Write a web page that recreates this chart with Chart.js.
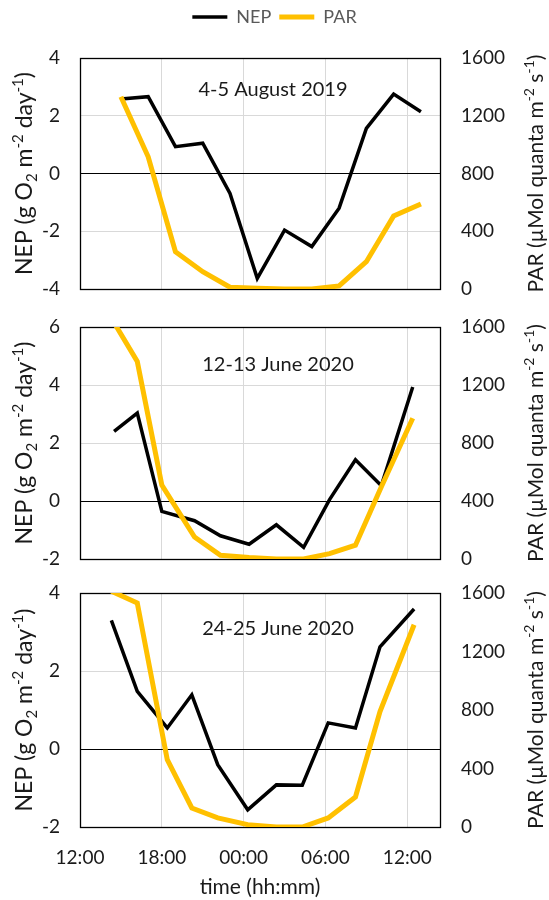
<!DOCTYPE html>
<html>
<head>
<meta charset="utf-8">
<script src="https://cdn.jsdelivr.net/npm/chart.js@4"></script>
<style>
body { margin: 0; background: #fff; }
#wrap { position: relative; width: 549px; height: 900px; }
canvas { position: absolute; left: 0; }
</style>
</head>
<body>
<div id="wrap">
<canvas id="c1" width="549" height="300" style="top:0px"></canvas>
<canvas id="c2" width="549" height="270" style="top:300px"></canvas>
<canvas id="c3" width="549" height="330" style="top:570px"></canvas>
</div>
<script>
// Times are hours after 12:00 on the first day
const hoursAug = [3, 5, 7, 9, 11, 13, 15, 17, 19, 21, 23, 25];
const nepAug = [2.58, 2.66, 0.93, 1.05, -0.69, -3.63, -1.96, -2.53, -1.20, 1.56, 2.75, 2.14];
const parAug = [1332, 916, 258, 120, 12, 5, 0, 0, 21, 189, 506, 589];

const hoursJun12 = [2.5, 4.2, 6.0, 8.4, 10.3, 12.4, 14.4, 16.4, 18.3, 20.2, 22.1, 24.4];
const nepJun12 = [2.40, 3.03, -0.36, -0.68, -1.20, -1.49, -0.82, -1.60, 0.05, 1.42, 0.53, 3.93];
const parJun12 = [1630, 1362, 510, 152, 26, 10, 0, 0, 37, 95, 498, 971];

const hoursJun24 = [2.3, 4.2, 6.4, 8.2, 10.1, 12.3, 14.4, 16.3, 18.2, 20.2, 22.0, 24.5];
const nepJun24 = [3.30, 1.48, 0.54, 1.39, -0.40, -1.56, -0.92, -0.93, 0.67, 0.54, 2.62, 3.59];
const parJun24 = [1612, 1532, 460, 130, 62, 16, 0, 0, 62, 205, 790, 1383];

const xTickHours = [0, 6, 12, 18, 24];
const xTickLabels = ['12:00', '18:00', '00:00', '06:00', '12:00'];

// axis titles: [text, 'n' normal | 'sup' | 'sub']
const nepTitle = [['NEP (g O', 'n'], ['2', 'sub'], [' m', 'n'], ['-2', 'sup'], [' day', 'n'], ['-1', 'sup'], [')', 'n']];
const parTitle = [['PAR (\u00b5Mol quanta m', 'n'], ['-2', 'sup'], [' s', 'n'], ['-1', 'sup'], [')', 'n']];

const FONT = 'Lato';
const TEXT = '#1a1a1a';
const GRID = '#d9d9d9';

// make the legend box taller so the plot starts lower
const legendHeight = {
	id: 'legendHeight',
	beforeInit(chart, args, opts) {
		if (!chart.legend || !opts.height) return;
		const fit = chart.legend.fit;
		chart.legend.fit = function () {
			fit.bind(chart.legend)();
			this.height = opts.height;
		};
	}
};

// black box round the plot area
const frame = {
	id: 'frame',
	beforeDatasetsDraw(chart) {
		const { ctx, chartArea: a } = chart;
		ctx.save();
		ctx.strokeStyle = '#000';
		ctx.lineWidth = 1.3;
		ctx.strokeRect(Math.round(a.left) + 0.5, Math.round(a.top) + 0.5, Math.round(a.right - a.left), Math.round(a.bottom - a.top));
		ctx.restore();
	}
};

const panelTitle = {
	id: 'panelTitle',
	afterDraw(chart, args, opts) {
		const ctx = chart.ctx;
		ctx.save();
		ctx.font = '20px ' + FONT;
		ctx.fillStyle = TEXT;
		ctx.textAlign = 'center';
		ctx.textBaseline = 'middle';
		ctx.fillText(opts.text, opts.x, opts.y);
		ctx.restore();
	}
};

// vertical title reading bottom to top, with super/subscripts
function drawRotated(ctx, parts, x, y, size) {
	const big = size + 'px ' + FONT;
	const small = Math.round(size * 0.66) + 'px ' + FONT;
	let total = 0;
	parts.forEach(p => {
		ctx.font = p[1] === 'n' ? big : small;
		total += ctx.measureText(p[0]).width;
	});
	ctx.save();
	ctx.translate(x, y);
	ctx.rotate(-Math.PI / 2);
	ctx.fillStyle = TEXT;
	ctx.textBaseline = 'alphabetic';
	let pos = -total / 2;
	const base = size * 0.36;
	parts.forEach(p => {
		ctx.font = p[1] === 'n' ? big : small;
		let dy = base;
		if (p[1] === 'sup') dy = base - size * 0.42;
		if (p[1] === 'sub') dy = base + size * 0.2;
		ctx.fillText(p[0], pos, dy);
		pos += ctx.measureText(p[0]).width;
	});
	ctx.restore();
}

const axisTitles = {
	id: 'axisTitles',
	afterDraw(chart, args, opts) {
		const a = chart.chartArea;
		const cy = (a.top + a.bottom) / 2;
		drawRotated(chart.ctx, nepTitle, opts.leftX, cy, opts.leftSize);
		drawRotated(chart.ctx, parTitle, opts.rightX, cy, opts.rightSize);
	}
};

function points(hours, vals) {
	return hours.map((h, i) => ({ x: h, y: vals[i] }));
}

// no extra room above/below the plot for the end tick labels
function noPad(s) {
	s.paddingTop = 0;
	s.paddingBottom = 0;
}

function makePanel(id, p) {
	return new Chart(id, {
		type: 'line',
		data: {
			datasets: [
				{ label: 'NEP', data: points(p.hours, p.nep), borderColor: '#000', backgroundColor: '#000',
					borderWidth: 3.5, pointRadius: 0, tension: 0, yAxisID: 'y', order: 1 },
				{ label: 'PAR', data: points(p.hours, p.par), borderColor: '#ffc000', backgroundColor: '#ffc000',
					borderWidth: 5, pointRadius: 0, tension: 0, yAxisID: 'y2', order: 0 }
			]
		},
		options: {
			responsive: false,
			animation: false,
			layout: { padding: { top: p.padTop, right: 0, left: 0, bottom: 0 } },
			plugins: {
				tooltip: { enabled: false },
				legend: {
					display: p.legend,
					labels: {
						usePointStyle: true,
						pointStyle: 'line',
						pointStyleWidth: 35,
						padding: 8,
						color: '#595959',
						font: { family: FONT, size: 18 },
						sort: (a, b) => a.datasetIndex - b.datasetIndex
					}
				},
				legendHeight: { height: p.legend ? 58 : 0 },
				panelTitle: { text: p.title, x: p.titleX, y: p.titleY },
				axisTitles: { leftX: 24, rightX: 535, leftSize: 23, rightSize: 21 }
			},
			scales: {
				x: {
					type: 'linear',
					min: 0,
					max: 26.4,
					afterBuildTicks: s => { s.ticks = xTickHours.map(v => ({ value: v })); },
					afterFit: s => { s.height = p.xHeight; },
					ticks: {
						display: p.xLabels,
						callback: (v, i) => xTickLabels[i],
						color: TEXT,
						font: { family: FONT, size: 19 },
						padding: 19,
						maxRotation: 0,
						autoSkip: false
					},
					grid: { color: GRID, drawTicks: false },
					border: { display: false },
					title: {
						display: p.xLabels,
						text: 'time (hh:mm)',
						color: TEXT,
						font: { family: FONT, size: 21 },
						padding: { top: 4, bottom: 0 }
					}
				},
				y: {
					position: 'left',
					min: p.nepMin,
					max: p.nepMax,
					afterFit: s => { s.width = 80; noPad(s); },
					ticks: { stepSize: 2, padding: 20, color: TEXT, font: { family: FONT, size: 19 } },
					grid: { color: c => (c.tick && c.tick.value === 0) ? '#000' : GRID, drawTicks: false },
					border: { display: false }
				},
				y2: {
					position: 'right',
					min: 0,
					max: 1600,
					afterFit: s => { s.width = 109; noPad(s); },
					ticks: { stepSize: 400, padding: 21, color: TEXT, font: { family: FONT, size: 19 },
						callback: v => String(v) },
					grid: { drawOnChartArea: false, drawTicks: false },
					border: { display: false }
				}
			}
		},
		plugins: [legendHeight, frame, panelTitle, axisTitles]
	});
}

makePanel('c1', { hours: hoursAug, nep: nepAug, par: parAug, nepMin: -4, nepMax: 4,
	title: '4-5 August 2019', titleX: 273, titleY: 90, legend: true, padTop: 0, xLabels: false, xHeight: 11 });
makePanel('c2', { hours: hoursJun12, nep: nepJun12, par: parJun12, nepMin: -2, nepMax: 6,
	title: '12-13 June 2020', titleX: 278, titleY: 65, legend: false, padTop: 27, xLabels: false, xHeight: 11 });
makePanel('c3', { hours: hoursJun24, nep: nepJun24, par: parJun24, nepMin: -2, nepMax: 4,
	title: '24-25 June 2020', titleX: 278, titleY: 59, legend: false, padTop: 23, xLabels: true, xHeight: 73 });
</script>
</body>
</html>
